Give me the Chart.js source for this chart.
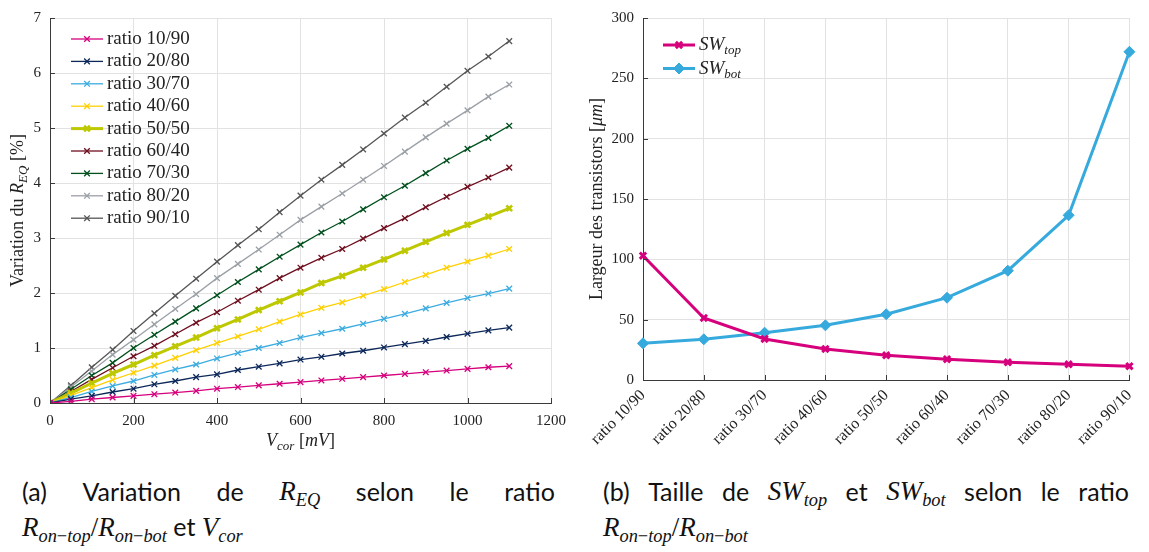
<!DOCTYPE html>
<html>
<head>
<meta charset="utf-8">
<script src="https://cdn.jsdelivr.net/npm/chart.js@4.4.1/dist/chart.umd.min.js"></script>
<style>
  body { margin: 0; background: #fff; width: 1149px; height: 552px; position: relative; overflow: hidden; }
  .box { position: absolute; top: 0; height: 460px; }
  .cap { position: absolute; top: 474px; font-family: Lato, "Open Sans", sans-serif; font-size: 25px; line-height: 35px; color: #111; }
  .l1 { display: flex; justify-content: space-between; white-space: nowrap; }
  .m { font-family: "Liberation Serif", serif; font-style: italic; font-size: 27px; }
  .m sub { font-size: 0.68em; vertical-align: -0.3em; line-height: 0; }
  .up { font-style: normal; }
</style>
</head>
<body>
<div class="box" style="left:0;width:575px"><canvas id="chartA"></canvas></div>
<div class="box" style="left:575px;width:574px"><canvas id="chartB"></canvas></div>

<div class="cap" style="left:22px;width:533px">
  <div class="l1"><span>(a)</span><span>Variation</span><span>de</span><span class="m">R<sub>EQ</sub></span><span>selon</span><span>le</span><span>ratio</span></div>
  <div><span class="m">R<sub>on<span class="up">−</span>top</sub><span class="up">/</span>R<sub>on<span class="up">−</span>bot</sub></span> et <span class="m">V<sub>cor</sub></span></div>
</div>
<div class="cap" style="left:603px;width:526px">
  <div class="l1"><span>(b)</span><span>Taille</span><span>de</span><span class="m">SW<sub>top</sub></span><span>et</span><span class="m">SW<sub>bot</sub></span><span>selon</span><span>le</span><span>ratio</span></div>
  <div><span class="m">R<sub>on<span class="up">−</span>top</sub><span class="up">/</span>R<sub>on<span class="up">−</span>bot</sub></span></div>
</div>

<script>
// ---- data: chart (a) ----
const vcor = [0, 50, 100, 150, 200, 250, 300, 350, 400, 450, 500, 550, 600, 650, 700, 750, 800, 850, 900, 950, 1000, 1050, 1100];
const ratioNames = ["ratio 10/90", "ratio 20/80", "ratio 30/70", "ratio 40/60", "ratio 50/50",
                    "ratio 60/40", "ratio 70/30", "ratio 80/20", "ratio 90/10"];
const r10_90 = [0, 0.03, 0.07, 0.10, 0.13, 0.16, 0.19, 0.22, 0.26, 0.29, 0.32, 0.35, 0.38, 0.41, 0.44, 0.47, 0.50, 0.53, 0.56, 0.59, 0.62, 0.65, 0.67];
const r20_80 = [0, 0.07, 0.13, 0.20, 0.26, 0.34, 0.40, 0.47, 0.52, 0.60, 0.66, 0.72, 0.79, 0.84, 0.90, 0.95, 1.01, 1.07, 1.13, 1.20, 1.26, 1.32, 1.37];
const r30_70 = [0, 0.10, 0.21, 0.31, 0.40, 0.51, 0.61, 0.70, 0.81, 0.91, 1.00, 1.09, 1.19, 1.27, 1.35, 1.44, 1.53, 1.62, 1.72, 1.82, 1.91, 1.99, 2.08];
const r40_60 = [0, 0.14, 0.28, 0.42, 0.55, 0.68, 0.82, 0.96, 1.09, 1.21, 1.34, 1.48, 1.61, 1.73, 1.83, 1.95, 2.07, 2.20, 2.33, 2.46, 2.57, 2.68, 2.80];
const r50_50 = [0, 0.18, 0.36, 0.54, 0.70, 0.87, 1.03, 1.19, 1.36, 1.52, 1.69, 1.85, 2.01, 2.18, 2.31, 2.46, 2.61, 2.77, 2.93, 3.09, 3.24, 3.39, 3.54];
const r60_40 = [0, 0.21, 0.43, 0.64, 0.85, 1.04, 1.25, 1.46, 1.65, 1.86, 2.06, 2.27, 2.46, 2.64, 2.80, 2.99, 3.18, 3.36, 3.56, 3.75, 3.93, 4.10, 4.28];
const r70_30 = [0, 0.25, 0.50, 0.73, 1.00, 1.24, 1.48, 1.72, 1.96, 2.20, 2.43, 2.66, 2.88, 3.10, 3.30, 3.52, 3.74, 3.95, 4.18, 4.41, 4.62, 4.82, 5.04];
const r80_20 = [0, 0.29, 0.58, 0.88, 1.15, 1.43, 1.71, 1.98, 2.27, 2.53, 2.79, 3.06, 3.33, 3.57, 3.81, 4.06, 4.31, 4.57, 4.83, 5.08, 5.32, 5.57, 5.79];
const r90_10 = [0, 0.32, 0.65, 0.97, 1.31, 1.63, 1.95, 2.26, 2.57, 2.87, 3.16, 3.47, 3.77, 4.06, 4.33, 4.61, 4.90, 5.19, 5.46, 5.75, 6.04, 6.30, 6.58];
const xTicksA = [0, 200, 400, 600, 800, 1000, 1200];

// ---- data: chart (b) ----
const ratioCats = ["ratio 10/90", "ratio 20/80", "ratio 30/70", "ratio 40/60", "ratio 50/50",
                   "ratio 60/40", "ratio 70/30", "ratio 80/20", "ratio 90/10"];
const swTop = [103, 51.4, 34, 25.7, 20.5, 17.2, 14.7, 13, 11.4];
const swBot = [30.4, 33.7, 39.2, 45.3, 54.5, 68.2, 90.6, 136.5, 272];

const SERIF = '"Liberation Serif", serif';
const GRID = "#e2e2e2";
const AXIS = "#3a3a3a";
const MAGENTA = "rgb(214,0,125)";
const BLUE = "rgb(55,170,221)";
const tickFont = { family: SERIF, size: 15 };

Chart.defaults.font.family = SERIF;
Chart.defaults.font.size = 15;
Chart.defaults.color = "#222";

// text with italic / subscript parts, drawn on the canvas
function drawRich(ctx, parts, x, y, size, align) {
  const font = (p) => (p.it ? "italic " : "") + Math.round(p.sub ? size * 0.7 : size) + "px " + SERIF;
  let w = 0;
  parts.forEach((p) => { ctx.font = font(p); w += ctx.measureText(p.t).width; });
  let cx = align === "center" ? x - w / 2 : x;
  ctx.save();
  ctx.fillStyle = "#222";
  ctx.textBaseline = "middle";
  ctx.textAlign = "left";
  parts.forEach((p) => {
    ctx.font = font(p);
    ctx.fillText(p.t, cx, y + (p.sub ? size * 0.3 : 0));
    cx += ctx.measureText(p.t).width;
  });
  ctx.restore();
}

// legend drawn inside the plot area (line sample + marker + label)
function insideLegend(id, x, y, dy, size, partsFor) {
  return {
    id: id,
    afterDraw(chart) {
      const ctx = chart.ctx;
      chart.data.datasets.forEach((ds, i) => {
        const ry = y + i * dy;
        ctx.save();
        ctx.strokeStyle = ds.borderColor;
        ctx.lineWidth = ds.borderWidth;
        ctx.beginPath();
        ctx.moveTo(x, ry);
        ctx.lineTo(x + 32, ry);
        ctx.stroke();
        ctx.fillStyle = ds.pointBackgroundColor || ds.borderColor;
        ctx.lineWidth = ds.pointBorderWidth;
        Chart.helpers.drawPoint(ctx, { pointStyle: ds.pointStyle, radius: ds.pointRadius, rotation: 0, borderWidth: ds.pointBorderWidth }, x + 16, ry);
        ctx.restore();
        drawRich(ctx, partsFor(ds, i), x + 36, ry, size);
      });
    }
  };
}

// small ticks pointing into the plot, plus axis titles
function axisDecor(id, yTitle, yTitleX, xTitle, xTitleY) {
  return {
    id: id,
    afterDraw(chart) {
      const ctx = chart.ctx;
      const a = chart.chartArea;
      const xs = chart.scales.x, ys = chart.scales.y;
      ctx.save();
      ctx.strokeStyle = AXIS;
      ctx.lineWidth = 1;
      ctx.beginPath();
      xs.ticks.forEach((t, i) => {
        const px = Math.round(xs.getPixelForTick(i)) + 0.5;
        ctx.moveTo(px, a.bottom);
        ctx.lineTo(px, a.bottom - 5);
      });
      ys.ticks.forEach((t, i) => {
        const py = Math.round(ys.getPixelForTick(i)) + 0.5;
        ctx.moveTo(a.left, py);
        ctx.lineTo(a.left + 5, py);
      });
      ctx.stroke();
      ctx.restore();

      ctx.save();
      ctx.translate(yTitleX, (a.top + a.bottom) / 2);
      ctx.rotate(-Math.PI / 2);
      drawRich(ctx, yTitle, 0, 0, 18, "center");
      ctx.restore();
      if (xTitle) drawRich(ctx, xTitle, (a.left + a.right) / 2, xTitleY, 18, "center");
    }
  };
}

const seriesA = [r10_90, r20_80, r30_70, r40_60, r50_50, r60_40, r70_30, r80_20, r90_10];
const colorsA = ["rgb(214,0,125)", "rgb(12,40,90)", "rgb(60,172,224)", "rgb(255,208,0)", "rgb(190,200,0)",
                 "rgb(110,14,30)", "rgb(0,80,30)", "rgb(155,160,166)", "rgb(85,85,85)"];

new Chart(document.getElementById("chartA"), {
  type: "line",
  data: {
    datasets: seriesA.map((vals, k) => {
      const bold = ratioNames[k] === "ratio 50/50";
      return {
        label: ratioNames[k],
        data: vcor.map((v, i) => ({ x: v, y: vals[i] })),
        borderColor: colorsA[k],
        backgroundColor: colorsA[k],
        borderWidth: bold ? 3 : 1.3,
        pointStyle: "crossRot",
        pointRadius: 4,
        pointBorderWidth: bold ? 2.6 : 1.3,
        tension: 0,
        fill: false
      };
    })
  },
  options: {
    responsive: true,
    maintainAspectRatio: false,
    animation: false,
    layout: { padding: { left: 0, right: 24, top: 10, bottom: 0 } },
    plugins: { legend: { display: false }, tooltip: { enabled: false } },
    scales: {
      x: {
        type: "linear", min: 0, max: 1200,
        afterBuildTicks: (s) => { s.ticks = xTicksA.map((v) => ({ value: v })); },
        afterFit: (s) => { s.height = 57; },
        grid: { color: GRID, drawTicks: false },
        border: { color: AXIS },
        ticks: { padding: 9, maxRotation: 0, font: tickFont, callback: (v) => String(v) }
      },
      y: {
        min: 0, max: 7,
        ticks: { stepSize: 1, padding: 9, font: tickFont, callback: (v) => String(v) },
        afterFit: (s) => { s.width = 50; },
        grid: { color: GRID, drawTicks: false },
        border: { color: AXIS }
      }
    }
  },
  plugins: [
    axisDecor("decorA",
      [{ t: "Variation du " }, { t: "R", it: true }, { t: "EQ", it: true, sub: true }, { t: " [%]" }], 18,
      [{ t: "V", it: true }, { t: "cor", it: true, sub: true }, { t: " [" }, { t: "mV", it: true }, { t: "]" }], 441),
    insideLegend("legA", 71, 39, 22.4, 19, (ds) => [{ t: ds.label }])
  ]
});

new Chart(document.getElementById("chartB"), {
  type: "line",
  data: {
    labels: ratioCats,
    datasets: [
      {
        label: "SW_top", data: swTop,
        borderColor: MAGENTA, backgroundColor: MAGENTA, pointBackgroundColor: MAGENTA,
        borderWidth: 3, pointStyle: "crossRot", pointRadius: 4.5, pointBorderWidth: 3, tension: 0
      },
      {
        label: "SW_bot", data: swBot,
        borderColor: BLUE, backgroundColor: BLUE, pointBackgroundColor: BLUE,
        borderWidth: 3, pointStyle: "rectRot", pointRadius: 5.5, pointBorderWidth: 1, tension: 0
      }
    ]
  },
  options: {
    responsive: true,
    maintainAspectRatio: false,
    animation: false,
    layout: { padding: { left: 0, right: 12, top: 18, bottom: 0 } },
    plugins: { legend: { display: false }, tooltip: { enabled: false } },
    scales: {
      x: {
        type: "category", offset: false,
        afterFit: (s) => { s.height = 80; },
        grid: { color: GRID, drawTicks: false, offset: false },
        border: { color: AXIS },
        ticks: { padding: 6, minRotation: 45, maxRotation: 45, autoSkip: false, font: { family: SERIF, size: 16 } }
      },
      y: {
        min: 0, max: 300,
        ticks: { stepSize: 50, padding: 9, font: tickFont, callback: (v) => String(v) },
        afterFit: (s) => { s.width = 68; },
        grid: { color: GRID, drawTicks: false },
        border: { color: AXIS }
      }
    }
  },
  plugins: [
    axisDecor("decorB",
      [{ t: "Largeur des transistors [" }, { t: "μm", it: true }, { t: "]" }], 22, null, 0),
    insideLegend("legB", 88, 45, 23.5, 19, (ds) => {
      const sub = ds.label.split("_")[1];
      return [{ t: "SW", it: true }, { t: sub, it: true, sub: true }];
    })
  ]
});
</script>
</body>
</html>
